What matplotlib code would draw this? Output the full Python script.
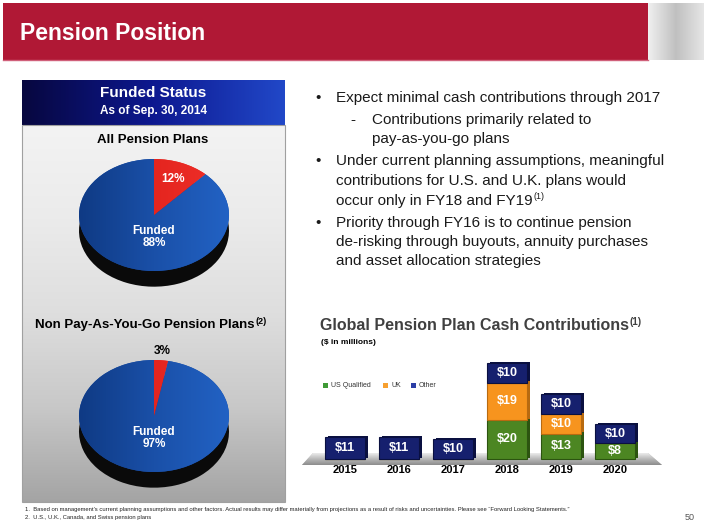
import numpy as np
import matplotlib
matplotlib.use("Agg")
import matplotlib.pyplot as plt
from matplotlib.colors import LinearSegmentedColormap
from matplotlib.patches import Rectangle, Polygon

plt.rcParams['font.family'] = ['Liberation Sans', 'DejaVu Sans']

# ---- data ----
pie_titles = ["All Pension Plans", "Non Pay-As-You-Go Pension Plans"]
pie_unfunded = [12, 3]
pie_funded = [88, 97]

years = ["2015", "2016", "2017", "2018", "2019", "2020"]
us_qualified = [0, 0, 0, 20, 13, 8]
uk = [0, 0, 0, 19, 10, 0]
other = [11, 11, 10, 10, 10, 10]
series_names = ["US Qualified", "UK", "Other"]

bullets = [
    ("•", ["Expect minimal cash contributions through 2017"]),
    ("-", ["Contributions primarily related to", "pay-as-you-go plans"]),
    ("•", ["Under current planning assumptions, meaningful",
           "contributions for U.S. and U.K. plans would",
           "occur only in FY18 and FY19"]),
    ("•", ["Priority through FY16 is to continue pension",
           "de-risking through buyouts, annuity purchases",
           "and asset allocation strategies"]),
]
footnotes = [
    "1.  Based on management\u2019s current planning assumptions and other factors. Actual results may differ materially "
    "from projections as a result of risks and uncertainties. Please see \u201cForward Looking Statements.\u201d",
    "2.  U.S., U.K., Canada, and Swiss pension plans",
]

W, H = 707, 530
fig = plt.figure(figsize=(W / 100, H / 100), dpi=100)
fig.patch.set_facecolor("white")
renderer = fig.canvas.get_renderer()


def rect_px(l, t, r, b):
    return [l / W, 1 - b / H, (r - l) / W, (b - t) / H]


bg = fig.add_axes([0, 0, 1, 1])
bg.set_xlim(0, W)
bg.set_ylim(H, 0)
bg.axis("off")


def gradient(ax, l, t, r, b, colors, horizontal=False, z=1):
    cmap = LinearSegmentedColormap.from_list("g", colors)
    g = np.linspace(0, 1, 256)
    img = g[None, :] if horizontal else g[:, None]
    return ax.imshow(img, cmap=cmap, extent=(l, r, b, t), aspect="auto", zorder=z,
                     interpolation="bilinear")


def text_sup(ax, x, y, main, sup, size, sup_size, **kw):
    t = ax.text(x, y, main, fontsize=size, **kw)
    bb = t.get_window_extent(renderer)
    ax.text(bb.x1 + 0.5, y - size * 0.35, sup, fontsize=sup_size, ha="left", va=kw.get("va", "center"),
            color=kw.get("color", "black"), fontweight=kw.get("fontweight", "normal"), zorder=kw.get("zorder", 5))


# header
bg.add_patch(Rectangle((3, 3), 645, 57, facecolor="#b01835", edgecolor="none", zorder=2))
bg.plot([3, 648], [60, 60], color="#d0607a", lw=1, zorder=3)
gradient(bg, 648, 3, 704, 60, ["#f0f0f0", "#c0c0c0", "#e6e6e6"], horizontal=True, z=2)
bg.text(20, 33, "Pension Position", color="white", fontsize=16.5, fontweight="bold",
        va="center", ha="left", zorder=4)

# left panel
gradient(bg, 22, 80, 285, 125, ["#07073f", "#0d1890", "#2148c8"], horizontal=True, z=2)
bg.text(153, 93, "Funded Status", color="white", fontsize=11, fontweight="bold", ha="center", va="center", zorder=4)
bg.text(153, 111, "As of Sep. 30, 2014", color="white", fontsize=8.5, fontweight="bold", ha="center", va="center", zorder=4)
gradient(bg, 22, 125, 285, 502, ["#f3f3f3", "#ebebeb", "#dedede", "#c8c8c8", "#a4a4a4"], z=2)
bg.add_patch(Rectangle((22, 125), 263, 377, facecolor="none", edgecolor="#a0a0a0", lw=0.8, zorder=3))

bg.text(153, 140, pie_titles[0], fontsize=9.5, fontweight="bold", ha="center", va="center", zorder=4)
text_sup(bg, 35, 325, pie_titles[1], "(2)", 9.5, 6.5, fontweight="bold", ha="left", va="center", zorder=4)

# pies
pie_centers = [(154, 215), (154, 416)]
for i, (cx, cy) in enumerate(pie_centers):
    hw, hh = 75, 56
    ax = fig.add_axes(rect_px(cx - hw * 1.1, cy - hh * 1.3, cx + hw * 1.1, cy + hh * 1.45))
    vals = [pie_unfunded[i], pie_funded[i]]
    ax.pie(vals, colors=["#0a0a0a", "#0a0a0a"], startangle=90, counterclock=False,
           center=(0, -0.28), radius=1, wedgeprops=dict(linewidth=0))
    wedges, _ = ax.pie(vals, colors=["#e8261e", "#1a4ea6"], startangle=90, counterclock=False,
                       radius=1, wedgeprops=dict(linewidth=0))
    ax.set_aspect("auto")
    ax.axis("off")
    # shading on the wedges
    cmap = LinearSegmentedColormap.from_list("b", ["#0f3a84", "#1a50a8", "#2262c4"])
    im = ax.imshow(np.linspace(0, 1, 256)[None, :], cmap=cmap, extent=(-1, 1, -1, 1),
                   aspect="auto", zorder=3, interpolation="bilinear")
    im.set_clip_path(wedges[1])
    cmap_r = LinearSegmentedColormap.from_list("r", ["#d81a14", "#f0302a"])
    im2 = ax.imshow(np.linspace(0, 1, 256)[None, :], cmap=cmap_r, extent=(-1, 1, -1, 1),
                    aspect="auto", zorder=3, interpolation="bilinear")
    im2.set_clip_path(wedges[0])
    ax.set_xlim(-1.1, 1.1)
    ax.set_ylim(-1.45, 1.3)
    w = wedges[0]
    mid = np.deg2rad((w.theta1 + w.theta2) / 2)
    if pie_unfunded[i] >= 10:
        ax.text(0.7 * np.cos(mid), 0.7 * np.sin(mid), f"{pie_unfunded[i]}%", color="white",
                fontsize=8.5, fontweight="bold", ha="center", va="center", zorder=5)
    else:
        ax.text(1.16 * np.cos(mid), 1.16 * np.sin(mid), f"{pie_unfunded[i]}%", color="black",
                fontsize=8.5, fontweight="bold", ha="center", va="center", zorder=5)
    ax.text(0, -0.4, f"Funded\n{pie_funded[i]}%", color="white", fontsize=8.5, fontweight="bold",
            ha="center", va="center", linespacing=1.0, zorder=5)

# bullets
y = 98
for mark, lines in bullets:
    sub = mark == "-"
    mx, tx = (350, 372) if sub else (315, 336)
    bg.text(mx, y, mark, fontsize=11, ha="left", va="center", color="#1a1a1a", zorder=4)
    for j, line in enumerate(lines):
        if line.endswith("FY19"):
            text_sup(bg, tx, y, line, "(1)", 11, 6.5, ha="left", va="center", color="#1a1a1a", zorder=4)
        else:
            bg.text(tx, y, line, fontsize=11, ha="left", va="center", color="#1a1a1a", zorder=4)
        if j < len(lines) - 1:
            y += 19.5
    y += 22

# bar chart titles
text_sup(bg, 320, 326, "Global Pension Plan Cash Contributions", "(1)", 11.5, 7,
         fontweight="bold", color="#404040", ha="left", va="center", zorder=4)
bg.text(321, 343, "($ in millions)", fontsize=6, fontweight="bold", ha="left", va="center", zorder=4)

# floor under the bars
floor = Polygon([(313, 453), (648, 453), (662, 465), (302, 465)], closed=True,
                facecolor="#bdbdbd", edgecolor="none", zorder=2)
bg.add_patch(floor)
fl_im = gradient(bg, 302, 453, 662, 465, ["#ececec", "#b8b8b8", "#8c8c8c"], z=2.5)
fl_im.set_clip_path(floor)
bg.set_xlim(0, W)
bg.set_ylim(H, 0)

# bars: x px = 345 + 54*i ; y px = 459 - 1.96*v
bx = fig.add_axes(rect_px(345 - 54 * 1.0, 459 - 1.96 * 52, 345 + 54 * 6.2, 459 + 1.96 * 10))
bx.set_xlim(-1.0, 6.2)
bx.set_ylim(-10, 52)
bx.patch.set_alpha(0)
bx.axis("off")
x = np.arange(len(years))
colors = ["#4c8622", "#f7941e", "#16206e"]
edges = ["#2c5410", "#b86a10", "#0a1040"]
bottom = np.zeros(len(years))
for vals, c, e in zip([us_qualified, uk, other], colors, edges):
    vals = np.array(vals, dtype=float)
    bx.bar(x + 0.06, vals, width=0.74, bottom=bottom + 0.6, color=e, edgecolor="none", zorder=2)
    bx.bar(x, vals, width=0.74, bottom=bottom, color=c, edgecolor=e, linewidth=0.8, zorder=3)
    for xi, v, b in zip(x, vals, bottom):
        if v > 0:
            bx.text(xi, b + v / 2, f"${int(v)}", color="white", fontsize=9, fontweight="bold",
                    ha="center", va="center", zorder=4)
    bottom = bottom + vals
for xi, yr in zip(x, years):
    bx.text(xi, -5.6, yr, fontsize=8, fontweight="bold", ha="center", va="center")

# legend
leg_colors = ["#3f9a36", "#f7a030", "#2c3ea6"]
lx = [325, 385, 413]
for px, name, c in zip(lx, series_names, leg_colors):
    bg.add_patch(Rectangle((px - 2.5, 383), 5, 5, facecolor=c, edgecolor="none", zorder=4))
    bg.text(px + 6, 385.5, name, fontsize=5, ha="left", va="center", color="#333333", zorder=4)

# footnotes
bg.text(25, 509, footnotes[0], fontsize=4.2, ha="left", va="center", color="#222222")
bg.text(25, 517, footnotes[1], fontsize=4.2, ha="left", va="center", color="#222222")
bg.text(690, 517, "50", fontsize=6.5, ha="center", va="center", color="#555555")

fig.savefig("out.png", dpi=100)
